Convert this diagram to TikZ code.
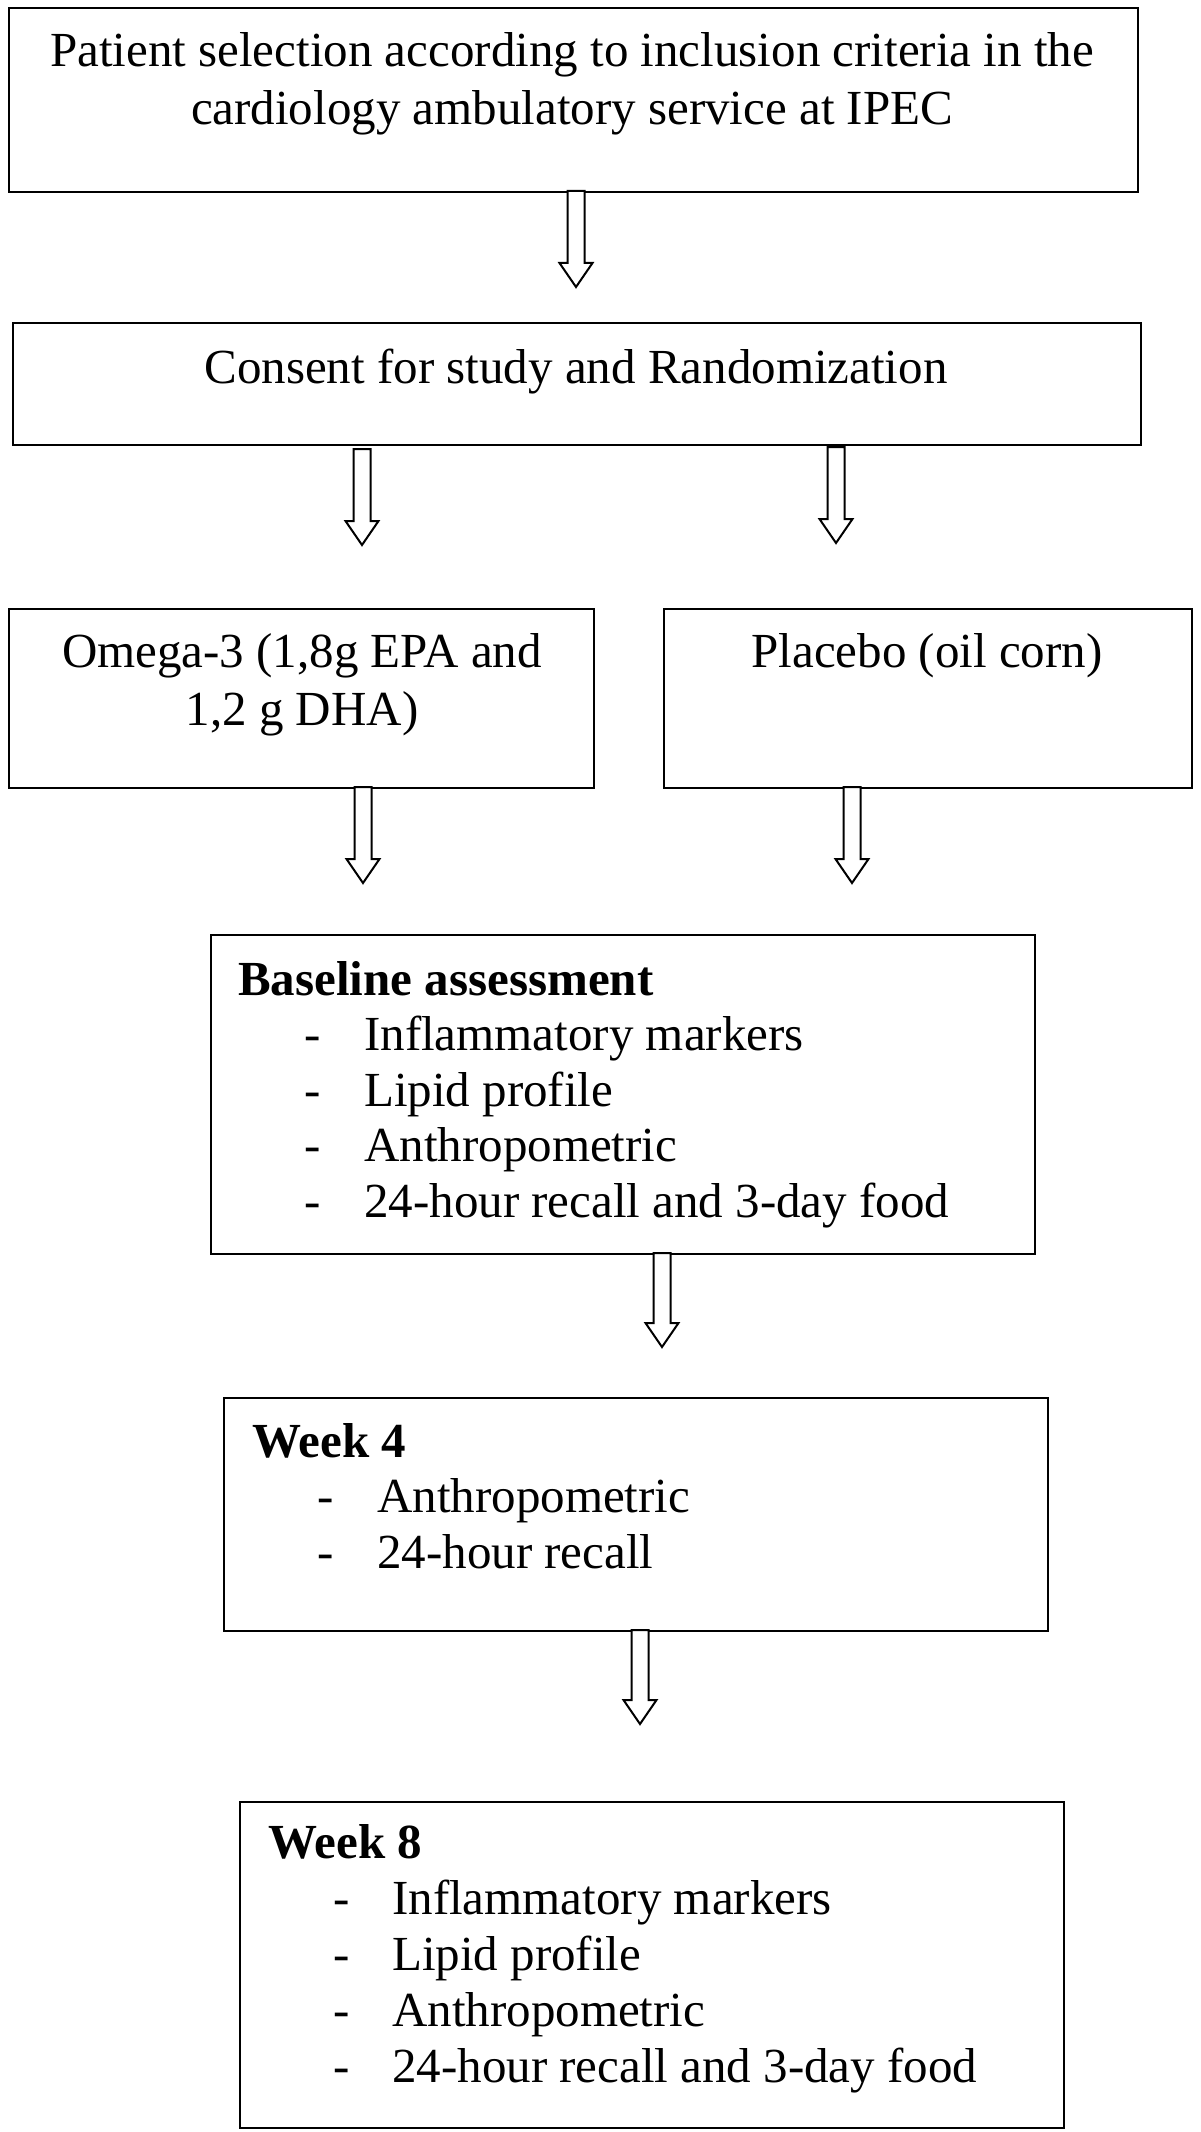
\documentclass[tikz,border=0pt]{standalone}
\usepackage{fontspec}
\setmainfont{Liberation Serif}
\newcommand\hollowarrow[3]{%
  \draw[harrow] (#1-8.5,#2) -- (#1+8.5,#2) -- (#1+8.5,#3-24) -- (#1+16.5,#3-24)
    -- (#1,#3) -- (#1-16.5,#3-24) -- (#1-8.5,#3-24) -- cycle;}
\begin{document}
\begin{tikzpicture}[x=1pt,y=-1pt,
  box/.style={draw, line width=2.4pt, inner sep=0pt, anchor=north west},
  harrow/.style={draw, line width=2pt, fill=white, line join=miter},
  txt/.style={inner sep=0pt, font=\fontsize{49}{57}\selectfont},
  btxt/.style={inner sep=0pt, font=\fontsize{49}{57}\selectfont\bfseries}]
\useasboundingbox (0,0) rectangle (1200,2132);
\fill[white] (0,0) rectangle (1200,2132);

% boxes
\node[box, minimum width=1129, minimum height=184] (b1) at (8,7) {};
\node[box, minimum width=1128, minimum height=122] (b2) at (12,322) {};
\node[box, minimum width=585, minimum height=179] (b3) at (8,608) {};
\node[box, minimum width=528, minimum height=179] (b4) at (663,608) {};
\node[box, minimum width=824, minimum height=319] (b5) at (210,934) {};
\node[box, minimum width=824, minimum height=233] (b6) at (223,1397) {};
\node[box, minimum width=824, minimum height=326] (b7) at (239,1801) {};

% texts
\node[txt, anchor=base] (t1a) at (572,67) {Patient selection according to inclusion criteria in the};
\node[txt, anchor=base] (t1b) at (572,125) {cardiology ambulatory service at IPEC};
\node[txt, anchor=base] (t2) at (576,383) {Consent for study and Randomization};
\node[txt, anchor=base] (t3a) at (302,667) {Omega-3 (1,8g EPA and};
\node[txt, anchor=base] (t3b) at (302,725) {1,2 g DHA)};
\node[txt, anchor=base] (t4) at (927,667) {Placebo (oil corn)};

\node[btxt, anchor=base west] (h5) at (238,995) {Baseline assessment};
\foreach \i/\t in {1/Inflammatory markers,2/Lipid profile,3/Anthropometric,4/24-hour recall and 3-day food}{
  \node[txt, anchor=base west] (d5\i) at (304,995+55.5*\i) {-};
  \node[txt, anchor=base west] (i5\i) at (364,995+55.5*\i) {\t};
}
\node[btxt, anchor=base west] (h6) at (252,1457) {Week 4};
\foreach \i/\t in {1/Anthropometric,2/24-hour recall}{
  \node[txt, anchor=base west] (d6\i) at (317,1457+55.5*\i) {-};
  \node[txt, anchor=base west] (i6\i) at (377,1457+55.5*\i) {\t};
}
\node[btxt, anchor=base west] (h7) at (268,1858) {Week 8};
\foreach \i/\t in {1/Inflammatory markers,2/Lipid profile,3/Anthropometric,4/24-hour recall and 3-day food}{
  \node[txt, anchor=base west] (d7\i) at (333,1858+56*\i) {-};
  \node[txt, anchor=base west] (i7\i) at (392,1858+56*\i) {\t};
}

% arrows
\hollowarrow{576}{191}{287}
\hollowarrow{362}{449}{545}
\hollowarrow{836}{447}{543}
\hollowarrow{363}{787}{883}
\hollowarrow{852}{787}{883}
\hollowarrow{662}{1253}{1347}
\hollowarrow{640}{1630}{1724}
\end{tikzpicture}
\end{document}
